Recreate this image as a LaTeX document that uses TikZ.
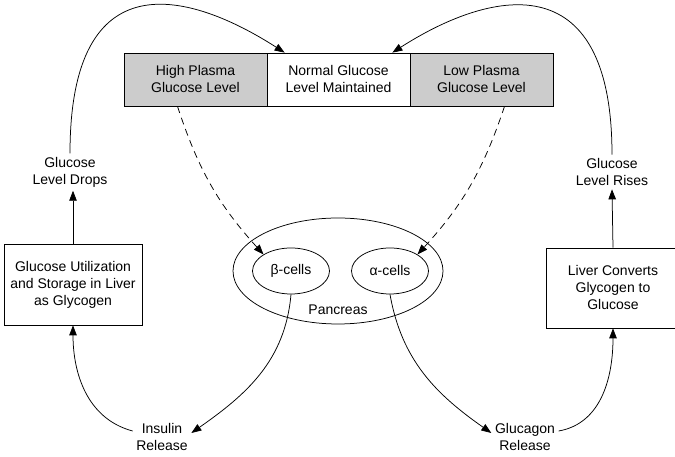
\documentclass[tikz,border=0pt]{standalone}
\usepackage{fontspec}
\setmainfont{Liberation Sans}
\usetikzlibrary{arrows.meta,shapes,positioning}

\begin{document}
\begin{tikzpicture}[x=1pt, y=1pt, node distance=143pt, font=\fontsize{14}{17}\selectfont,
  line width=0.75pt]
\tikzstyle{level} = [rectangle, draw, fill=black!20, align=center,
  minimum width=143pt, minimum height=53pt, inner sep=0pt]
\tikzstyle{block} = [rectangle, draw, align=center, minimum width=138pt, minimum height=81pt]
\tikzstyle{cell} = [ellipse, draw, minimum width=77pt, minimum height=46pt, inner sep=0pt]
\tikzstyle{lbl} = [align=center]
\tikzstyle{line} = [-{Triangle[length=10pt,width=7.5pt]}, draw]
\tikzstyle{hint} = [line, dash pattern=on 7pt off 5pt]

    \useasboundingbox (0,0) rectangle (675,457);
    \node [level] (high) at (195.5,377.5) {High Plasma\\Glucose Level};
    \node [level, fill=white, right of=high] (normal) {Normal Glucose\\Level Maintained};
    \node [level, right of=normal] (low) {Low Plasma\\Glucose Level};
    \node [ellipse, draw, minimum width=210pt, minimum height=106pt] (pancreas) at (338,186) {};
    \node (pancreas-lbl) at (338,147) {Pancreas};
    \node [cell] (beta) at (291,186) {β-cells};
    \node [cell] (alpha) at (390,186) {α-cells};
    \node [block] (util) at (73,172.5) {Glucose Utilization\\and Storage in Liver\\as Glycogen};
    \node [block, minimum width=134pt, minimum height=80pt] (conv) at (613,169)
    {Liver Converts\\Glycogen to\\Glucose};
    \node [lbl] (drops) at (70,285) {Glucose\\Level Drops};
    \node [lbl] (rises) at (612,285) {Glucose\\Level Rises};
    \node [lbl] (insulin) at (162,20) {Insulin\\Release};
    \node [lbl] (glucagon) at (525,20) {Glucagon\\Release};
    \path [line] (util.north) -- (util.north |- drops.south);
    \path [line] (conv.north) -- (rises.south);
    \path [line] (drops.north) .. controls +(0,195) and +(-95,61) .. ([xshift=18pt]normal.north west);
    \path [line] (rises.north) .. controls +(0,195) and +(95,61) .. ([xshift=-18pt]normal.north east);
    \path [hint] ([xshift=-18pt]high.south) to [bend right=12] (beta.north west);
    \path [hint] ([xshift=23pt]low.south) to [bend left=12] (alpha.north east);
    \path [line] (beta.south) to [out=-95, in=35] ([yshift=4pt]insulin.east);
    \path [line] ([yshift=6pt]insulin.west) to [out=165, in=-90] (util.south);
    \path [line] (alpha.south) to [out=-80, in=145] ([yshift=4pt]glucagon.west);
    \path [line] ([yshift=6pt]glucagon.east) to [out=10, in=-90] (conv.south);
\end{tikzpicture}
\end{document}
